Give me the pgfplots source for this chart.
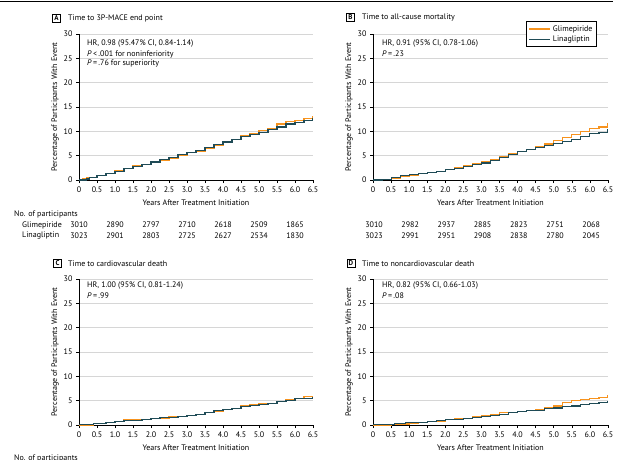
\documentclass[border=0pt]{standalone}
\usepackage{fontspec}
\setmainfont{PT Sans}
\usepackage{pgfplots}
\pgfplotsset{compat=1.18}
\usepackage{pgfplotstable}
\definecolor{glim}{HTML}{F7931E}
\definecolor{lina}{HTML}{1F4B56}
\definecolor{gridc}{HTML}{D6D6D6}

\pgfplotstableread{
x y
0 0
0.1 0.3
0.2 0.6
0.5 1.0
0.75 1.4
1.0 1.9
1.25 2.4
1.5 2.9
1.75 3.2
2.0 3.6
2.25 4.0
2.5 4.5
2.75 5.1
3.0 5.6
3.25 5.9
3.5 6.5
3.75 7.1
4.0 7.7
4.25 8.3
4.5 9.1
4.75 9.6
5.0 10.1
5.25 10.6
5.5 11.5
5.75 12.0
6.0 12.2
6.25 12.6
6.5 13.1
}\Aglim
\pgfplotstableread{
x y
0 0
0.2 0.2
0.3 0.6
0.5 0.9
0.75 1.3
1.0 1.8
1.25 2.3
1.5 2.8
1.75 3.2
2.0 3.7
2.25 4.3
2.5 4.6
2.75 5.3
3.0 5.6
3.25 6.0
3.5 6.7
3.75 7.3
4.0 7.8
4.25 8.4
4.5 9.0
4.75 9.3
5.0 9.8
5.25 10.3
5.5 10.9
5.75 11.5
6.0 11.9
6.25 12.3
6.5 12.7
}\Alina
\pgfplotstableread{
x y
0 0
0.25 0.1
0.5 0.4
0.75 0.7
1.0 1.0
1.25 1.3
1.5 1.6
1.75 1.8
2.0 2.2
2.25 2.5
2.5 2.9
2.75 3.3
3.0 3.8
3.25 4.2
3.5 4.9
3.75 5.4
4.0 5.8
4.25 6.2
4.5 6.8
4.75 7.4
5.0 8.1
5.25 8.7
5.5 9.4
5.75 10.0
6.0 10.5
6.25 10.9
6.5 11.7
}\Bglim
\pgfplotstableread{
x y
0 0
0.25 0.1
0.5 0.6
0.75 0.9
1.0 1.1
1.25 1.3
1.5 1.6
1.75 1.8
2.0 2.2
2.25 2.4
2.5 2.7
2.75 3.1
3.0 3.5
3.25 4.0
3.5 4.7
3.75 5.3
4.0 5.8
4.25 6.2
4.5 6.6
4.75 7.1
5.0 7.5
5.25 8.0
5.5 8.4
5.75 8.9
6.0 9.6
6.25 9.8
6.5 10.4
}\Blina
\pgfplotstableread{
x y
0 0
0.4 0.3
0.75 0.6
1.0 0.8
1.25 1.1
1.5 1.1
1.75 1.1
2.0 1.3
2.25 1.4
2.5 1.7
2.75 1.8
3.0 1.9
3.25 2.1
3.5 2.5
3.75 2.8
4.0 3.1
4.25 3.4
4.5 3.9
4.75 4.1
5.0 4.4
5.25 4.5
5.5 4.9
5.75 5.2
6.0 5.5
6.25 5.8
6.5 6.0
}\Cglim
\pgfplotstableread{
x y
0 0.1
0.4 0.3
0.75 0.6
1.0 0.7
1.25 0.9
1.5 1.0
1.75 1.1
2.0 1.3
2.25 1.5
2.5 1.6
2.75 1.7
3.0 2.0
3.25 2.2
3.5 2.6
3.75 2.9
4.0 3.2
4.25 3.4
4.5 3.8
4.75 4.0
5.0 4.3
5.25 4.5
5.5 4.8
5.75 5.0
6.0 5.4
6.25 5.5
6.5 5.7
}\Clina
\pgfplotstableread{
x y
0 0
0.5 0.1
0.75 0.2
1.0 0.3
1.25 0.5
1.5 0.7
1.75 0.8
2.0 1.1
2.25 1.3
2.5 1.4
2.75 1.7
3.0 1.9
3.25 2.1
3.5 2.5
3.75 2.6
4.0 2.7
4.25 3.0
4.5 3.1
4.75 3.5
5.0 3.9
5.25 4.6
5.5 5.0
5.75 5.2
6.0 5.4
6.25 5.7
6.5 6.1
}\Dglim
\pgfplotstableread{
x y
0 0.1
0.6 0.3
0.9 0.5
1.25 0.6
1.5 0.7
1.75 0.9
2.0 1.1
2.25 1.2
2.5 1.3
2.75 1.5
3.0 1.7
3.25 1.9
3.5 2.2
3.75 2.5
4.0 2.7
4.25 3.0
4.5 3.0
4.75 3.3
5.0 3.5
5.25 3.8
5.5 3.9
5.75 4.2
6.0 4.5
6.25 4.6
6.5 5.0
}\Dlina

\newcommand{\fs}{\fontsize{8}{9.5}\selectfont}

\pgfplotsset{kmstyle/.style={
  scale only axis, width=234pt, height=146pt,
  xmin=0, xmax=6.5, ymin=0, ymax=30,
  axis x line*=bottom, axis y line*=left,
  xtick={0,0.5,1,1.5,2,2.5,3,3.5,4,4.5,5,5.5,6,6.5},
  xticklabels={0,0.5,1.0,1.5,2.0,2.5,3.0,3.5,4.0,4.5,5.0,5.5,6.0,6.5},
  ytick={0,5,10,15,20,25,30},
  ymajorgrids, grid style={gridc, line width=0.8pt},
  tick align=outside, major tick length=3pt,
  tick style={black, line width=0.6pt},
  axis line style={line width=0.6pt},
  ticklabel style={font=\fs},
  /pgf/number format/assume math mode=true,
  xlabel={Years After Treatment Initiation},
  ylabel={Percentage of Participants With Event},
  label style={font=\fs},
  xlabel style={yshift=-1pt},
  ylabel style={yshift=-2pt},
  glimline/.style={const plot, glim, line width=1.1pt},
  linaline/.style={const plot, lina, line width=1.1pt},
}}

\begin{document}
\begin{tikzpicture}[x=1pt,y=1pt]
\useasboundingbox (0pt,0pt) rectangle (622pt,-460pt);
\draw[line width=0.8pt] (0pt,-1.2pt) -- (613pt,-1.2pt);

% Panel A
\begin{axis}[kmstyle, at={(79pt,-180pt)}, anchor=south west]
\addplot[glimline] table {\Aglim};
\addplot[linaline] table {\Alina};
\end{axis}
% Panel B
\begin{axis}[kmstyle, width=235pt, at={(373pt,-180pt)}, anchor=south west,
  legend style={at={(0.953,1.089)}, anchor=north east, draw=black, line width=0.8pt,
    font=\fs, inner sep=2pt, row sep=-1pt, fill=white},
  legend cell align=left,
  legend image code/.code={\draw[#1, line width=1.1pt] (0pt,0pt) -- (21pt,0pt);}]
\addplot[glimline] table {\Bglim};
\addlegendentry{Glimepiride}
\addplot[linaline] table {\Blina};
\addlegendentry{Linagliptin}
\end{axis}
% Panel C
\begin{axis}[kmstyle, at={(79pt,-425pt)}, anchor=south west]
\addplot[glimline] table {\Cglim};
\addplot[linaline] table {\Clina};
\end{axis}
% Panel D
\begin{axis}[kmstyle, width=235pt, at={(373pt,-425pt)}, anchor=south west]
\addplot[glimline] table {\Dglim};
\addplot[linaline] table {\Dlina};
\end{axis}

% Titles
\tikzset{pbox/.style={draw, line width=0.6pt, inner sep=0pt, minimum size=8pt, font=\bfseries\fontsize{7}{8}\selectfont},
  ttl/.style={anchor=west, inner sep=0pt, font=\fs}}
\node[pbox] at (56.5pt,-18.5pt) {A};
\node[ttl] at (68pt,-18.5pt) {Time to 3P-MACE end point};
\node[pbox] at (350.5pt,-17.5pt) {B};
\node[ttl] at (362pt,-17.5pt) {Time to all-cause mortality};
\node[pbox] at (57.5pt,-263.5pt) {C};
\node[ttl] at (68pt,-263.5pt) {Time to cardiovascular death};
\node[pbox] at (351pt,-263.5pt) {D};
\node[ttl] at (362pt,-263.5pt) {Time to noncardiovascular death};

% Annotations
\node[ttl] at (87pt,-44pt) {HR, 0.98 (95.47\% CI, 0.84-1.14)};
\node[ttl] at (87pt,-54pt) {\textit{P}\,<\,.001 for noninferiority};
\node[ttl] at (87pt,-63.5pt) {\textit{P}\,=\,.76 for superiority};
\node[ttl] at (382pt,-44pt) {HR, 0.91 (95\% CI, 0.78-1.06)};
\node[ttl] at (382pt,-54pt) {\textit{P}\,=\,.23};
\node[ttl] at (87pt,-286pt) {HR, 1.00 (95\% CI, 0.81-1.24)};
\node[ttl] at (87pt,-296pt) {\textit{P}\,=\,.99};
\node[ttl] at (382pt,-286pt) {HR, 0.82 (95\% CI, 0.66-1.03)};
\node[ttl] at (382pt,-296pt) {\textit{P}\,=\,.08};

% Number at risk
\node[ttl] at (14pt,-214pt) {No. of participants};
\node[ttl] at (22pt,-225pt) {Glimepiride};
\node[ttl] at (22pt,-236pt) {Linagliptin};
\foreach \v [count=\k from 0] in {3010,2890,2797,2710,2618,2509,1865}
  \node[inner sep=0pt, font=\fs] at (79pt+36pt*\k,-225pt) {\v};
\foreach \v [count=\k from 0] in {3023,2901,2803,2725,2627,2534,1830}
  \node[inner sep=0pt, font=\fs] at (79pt+36pt*\k,-236pt) {\v};
\foreach \v [count=\k from 0] in {3010,2982,2937,2885,2823,2751,2068}
  \node[inner sep=0pt, font=\fs] at (374pt+36.2pt*\k,-225pt) {\v};
\foreach \v [count=\k from 0] in {3023,2991,2951,2908,2838,2780,2045}
  \node[inner sep=0pt, font=\fs] at (374pt+36.2pt*\k,-236pt) {\v};
\node[ttl] at (14pt,-458pt) {No. of participants};
\end{tikzpicture}
\end{document}
